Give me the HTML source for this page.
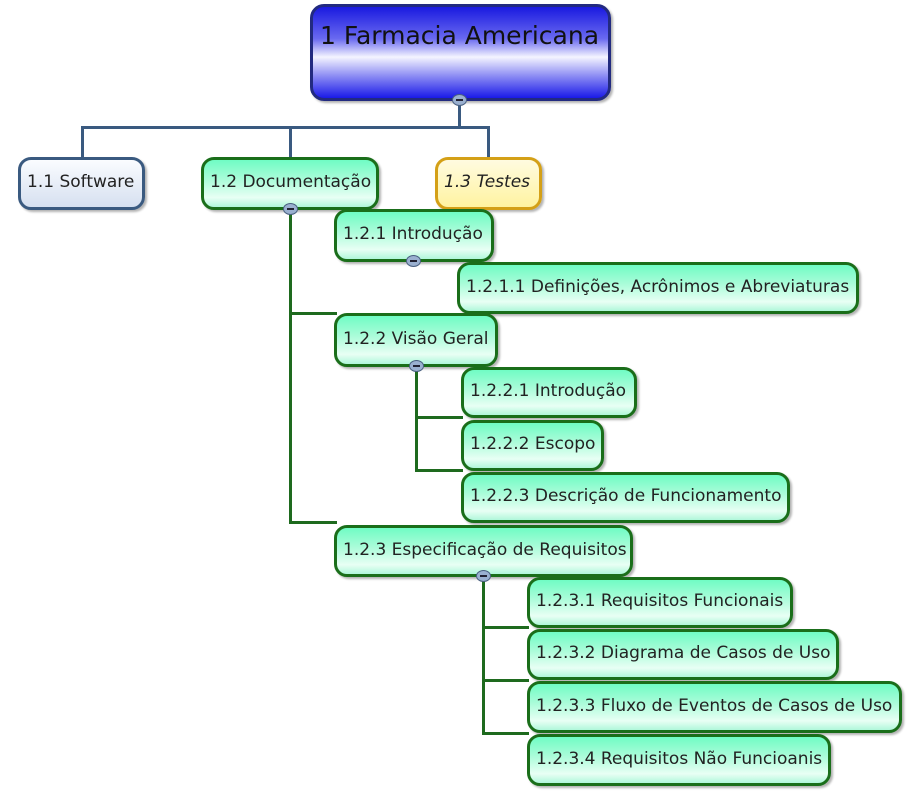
<!DOCTYPE html>
<html><head><meta charset="utf-8"><style>
body{margin:0;width:921px;height:800px;background:#fff;position:relative;overflow:hidden;font-family:"DejaVu Sans","Liberation Sans",sans-serif;}
.n{position:absolute;box-sizing:border-box;border:3px solid #1a6e1a;border-radius:13px;background:linear-gradient(#70fcc4 0%,#a8fcd8 40%,#e8fff4 80%,#b0f7da 100%);font-size:17px;color:#222;padding-left:6px;padding-bottom:3px;display:flex;align-items:center;white-space:nowrap;box-shadow:2px 2px 2px rgba(0,0,0,.3);}
.l{position:absolute;background:#1e6a1e;}
.b{position:absolute;width:15px;height:12px;border-radius:50%;background:#9ab0d0;border:1.5px solid #4a6080;box-sizing:border-box;}
.b:after{content:"";position:absolute;left:3px;right:3px;top:4px;height:2px;background:#223;}
</style></head><body>
<div class="l" style="background:#3a5a80;left:458px;top:100px;width:3px;height:29px"></div>
<div class="l" style="background:#3a5a80;left:81px;top:126px;width:409px;height:3px"></div>
<div class="l" style="background:#3a5a80;left:81px;top:126px;width:3px;height:32px"></div>
<div class="l" style="background:#3a5a80;left:289px;top:126px;width:3px;height:32px"></div>
<div class="l" style="background:#3a5a80;left:487px;top:126px;width:3px;height:32px"></div>
<div class="l" style="left:289px;top:209px;width:3px;height:315px"></div>
<div class="l" style="left:289px;top:312px;width:48px;height:3px"></div>
<div class="l" style="left:289px;top:521px;width:48px;height:3px"></div>
<div class="l" style="left:415px;top:366px;width:3px;height:106px"></div>
<div class="l" style="left:415px;top:416px;width:48px;height:3px"></div>
<div class="l" style="left:415px;top:469px;width:48px;height:3px"></div>
<div class="l" style="left:482px;top:576px;width:3px;height:159px"></div>
<div class="l" style="left:482px;top:626px;width:47px;height:3px"></div>
<div class="l" style="left:482px;top:679px;width:47px;height:3px"></div>
<div class="l" style="left:482px;top:732px;width:47px;height:3px"></div>

<div class="n" style="left:310px;top:4px;width:301px;height:97px;border-color:#222a80;border-radius:14px;background:linear-gradient(#1a1ae0 0%,#6a6af0 35%,#f4f4ff 55%,#9090f4 75%,#1a1ae8 100%);font-size:25px;align-items:flex-start;padding-top:14px;padding-left:7px;color:#111">1 Farmacia Americana</div>
<div class="n" style="left:18px;top:157px;width:127px;height:53px;border-color:#3a5a80;background:linear-gradient(#fafcff,#d6e0f0)">1.1 Software</div>
<div class="n" style="left:201px;top:157px;width:178px;height:53px">1.2 Documentação</div>
<div class="n" style="left:435px;top:157px;width:107px;height:53px;border-color:#d4a017;background:linear-gradient(#fffbe0,#fff3a0);font-style:italic">1.3 Testes</div>
<div class="n" style="left:334px;top:209px;width:160px;height:53px">1.2.1 Introdução</div>
<div class="n" style="left:457px;top:262px;width:402px;height:52px">1.2.1.1 Definições, Acrônimos e Abreviaturas</div>
<div class="n" style="left:334px;top:313px;width:164px;height:54px">1.2.2 Visão Geral</div>
<div class="n" style="left:461px;top:367px;width:176px;height:51px">1.2.2.1 Introdução</div>
<div class="n" style="left:461px;top:420px;width:143px;height:51px">1.2.2.2 Escopo</div>
<div class="n" style="left:461px;top:472px;width:329px;height:51px">1.2.2.3 Descrição de Funcionamento</div>
<div class="n" style="left:334px;top:525px;width:299px;height:52px">1.2.3 Especificação de Requisitos</div>
<div class="n" style="left:527px;top:577px;width:266px;height:51px">1.2.3.1 Requisitos Funcionais</div>
<div class="n" style="left:527px;top:629px;width:312px;height:51px">1.2.3.2 Diagrama de Casos de Uso</div>
<div class="n" style="left:527px;top:681px;width:375px;height:52px">1.2.3.3 Fluxo de Eventos de Casos de Uso</div>
<div class="n" style="left:527px;top:734px;width:304px;height:52px">1.2.3.4 Requisitos Não Funcioanis</div>

<div class="b" style="left:452px;top:94px"></div>
<div class="b" style="left:283px;top:203px"></div>
<div class="b" style="left:406px;top:255px"></div>
<div class="b" style="left:409px;top:360px"></div>
<div class="b" style="left:476px;top:570px"></div>
</body></html>
